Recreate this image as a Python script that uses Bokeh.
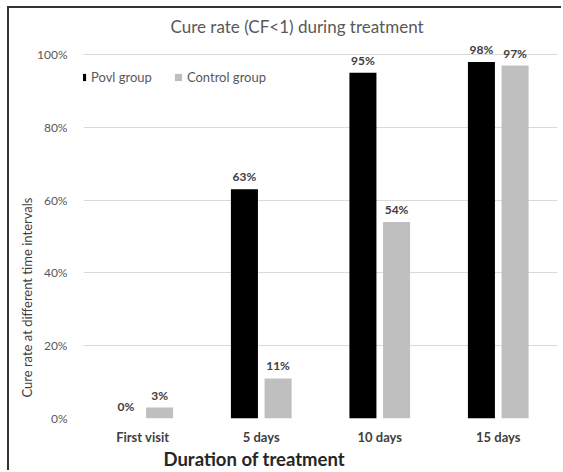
from bokeh.plotting import figure
from bokeh.models import (ColumnDataSource, FactorRange, Range1d, FixedTicker,
                          NumeralTickFormatter, Title, Legend, LegendItem)
from bokeh.transform import dodge
from bokeh.core.properties import value
from bokeh.embed import file_html
from bokeh.resources import INLINE

# Cure rate (CF<1) at each visit, as fractions
categories = ["First visit", "5 days", "10 days", "15 days"]
povl_group = [0.00, 0.63, 0.95, 0.98]
control_group = [0.03, 0.11, 0.54, 0.97]
y_ticks = [0.0, 0.2, 0.4, 0.6, 0.8, 1.0]

FONT = "Lato"
POVL_COLOR = "#000000"
CONTROL_COLOR = "#bfbfbf"

source = ColumnDataSource(dict(
    cat=categories,
    povl=povl_group,
    control=control_group,
    povl_txt=[f"{round(v * 100)}%" for v in povl_group],
    control_txt=[f"{round(v * 100)}%" for v in control_group],
))

p = figure(
    width=554, height=464,
    x_range=FactorRange(*categories, range_padding=0),
    y_range=Range1d(0, 1.047),
    output_backend="svg", toolbar_location=None,
    min_border_left=74, min_border_right=6,
    min_border_top=29, min_border_bottom=54,
)
p.styles = {"border-left": "2px solid #333333", "border-top": "2px solid #333333"}
p.margin = (6, 0, 0, 7)
p.outline_line_color = None
p.background_fill_color = "white"
p.border_fill_color = "white"

off = 0.142
bw = 0.228
p.vbar(x=dodge("cat", -off, range=p.x_range), top="povl", width=bw,
       source=source, fill_color=POVL_COLOR, line_color=None)
p.vbar(x=dodge("cat", off, range=p.x_range), top="control", width=bw,
       source=source, fill_color=CONTROL_COLOR, line_color=None)

# square swatches for the legend keys (placed below the visible y range)
key_povl = p.scatter(x=categories[:1], y=[-1.0], marker="square", size=7,
                     fill_color=POVL_COLOR, line_color=None)
key_ctrl = p.scatter(x=categories[:1], y=[-1.0], marker="square", size=7,
                     fill_color=CONTROL_COLOR, line_color=None)

# value labels above the bars
for col, txt, dx in (("povl", "povl_txt", -off), ("control", "control_txt", off)):
    p.text(x=dodge("cat", dx, range=p.x_range), y=col, text=txt, source=source,
           text_align="center", text_baseline="bottom", y_offset=-5,
           text_font=value(FONT), text_font_style="bold",
           text_font_size="12px", text_color="#404040")

# axes
p.yaxis.ticker = FixedTicker(ticks=y_ticks)
p.yaxis.formatter = NumeralTickFormatter(format="0%")
p.yaxis.axis_line_color = None
p.yaxis.major_tick_line_color = None
p.yaxis.minor_tick_line_color = None
p.yaxis.major_tick_out = 0
p.yaxis.major_tick_in = 0
p.yaxis.minor_tick_out = 0
p.yaxis.major_label_standoff = 16
p.yaxis.major_label_text_font = FONT
p.yaxis.major_label_text_font_size = "12px"
p.yaxis.major_label_text_color = "#595959"

p.xaxis.axis_line_color = None
p.xaxis.major_tick_line_color = None
p.xaxis.minor_tick_line_color = None
p.xaxis.major_tick_out = 0
p.xaxis.major_tick_in = 0
p.xaxis.minor_tick_out = 0
p.xaxis.major_label_standoff = 10
p.xaxis.major_label_text_font = FONT
p.xaxis.major_label_text_font_style = "bold"
p.xaxis.major_label_text_font_size = "13px"
p.xaxis.major_label_text_color = "#404040"

p.xgrid.grid_line_color = None
p.ygrid.grid_line_color = "#d9d9d9"
p.ygrid.grid_line_width = 1

# legend
legend = Legend(items=[LegendItem(label="Povl group", renderers=[key_povl]),
                       LegendItem(label="Control group", renderers=[key_ctrl])],
                orientation="horizontal", location=(-10, 332),
                glyph_width=18, glyph_height=18, label_standoff=-3, spacing=17,
                padding=0, margin=0, border_line_color=None,
                background_fill_alpha=0,
                label_text_font=FONT, label_text_font_size="13px",
                label_text_color="#595959", label_height=14)
p.add_layout(legend)

# chart and axis titles
p.add_layout(Title(text="Cure rate (CF<1) during treatment", align="left",
                   offset=87, standoff=2, padding=0, text_font=FONT,
                   text_font_style="normal", text_font_size="17px",
                   text_color="#595959"), "above")
p.add_layout(Title(text="Cure rate at different time intervals", align="left",
                   offset=21, standoff=0, padding=0, text_font=FONT,
                   text_font_style="normal", text_font_size="13px",
                   text_color="#404040"), "left")
p.add_layout(Title(text="Duration of treatment", align="left",
                   offset=80, standoff=1, padding=0, vertical_align="top",
                   text_font=FONT, text_font_style="bold",
                   text_font_size="18.5px", text_color="#262626"), "below")

open("out.html", "w").write(file_html(p, INLINE))
